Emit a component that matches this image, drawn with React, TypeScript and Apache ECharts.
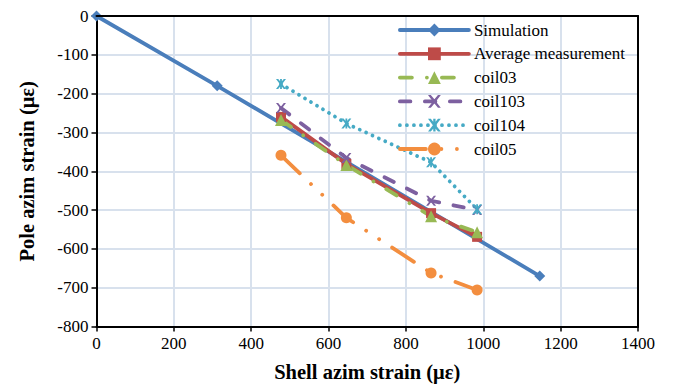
import React, { useEffect, useRef } from "react";
import * as echarts from "echarts";

const seriesNames = ["Simulation", "Average measurement", "coil03", "coil103", "coil104", "coil05"];

const simulation: [number, number][] = [[0, 0], [312, -180], [1146, -670]];
const averageMeasurement: [number, number][] = [[477, -260], [646, -381], [865, -508], [984, -569]];
const coil03: [number, number][] = [[477, -268], [646, -384], [865, -516], [984, -557]];
const coil103: [number, number][] = [[477, -237], [646, -366], [865, -476], [984, -500]];
const coil104: [number, number][] = [[477, -175], [646, -277], [865, -377], [984, -498]];
const coil05: [number, number][] = [[477, -359], [646, -520], [865, -662], [984, -706]];

const xTicks = { min: 0, max: 1400, interval: 200 };
const yTicks = { min: -800, max: 0, interval: 100 };

const FONT = "Liberation Serif";

const X_PATH = "path://M0,0L2.2,0L5,3.4L7.8,0L10,0L6.2,5L10,10L7.8,10L5,6.6L2.2,10L0,10L3.8,5Z";
const STAR_PATH =
  "path://M0,0L2.2,0L5,3.4L7.8,0L10,0L6.2,5L10,10L7.8,10L5,6.6L2.2,10L0,10L3.8,5Z M4.1,0L5.9,0L5.9,10L4.1,10Z";

export default function App() {
  const ref = useRef<HTMLDivElement>(null);
  useEffect(() => {
    if (!ref.current) return;
    const chart = echarts.init(ref.current, undefined, { renderer: "svg" });
    const mk = (
      name: string,
      data: [number, number][],
      color: string,
      symbol: string,
      symbolSize: number,
      type: any,
      width = 3.8
    ) => ({
      name,
      type: "line",
      data,
      symbol,
      symbolSize,
      showSymbol: true,
      color,
      itemStyle: { color, borderWidth: 0 },
      lineStyle: { color, width, type, cap: "round" },
      z: 2,
    });
    const frameAxis = {
      type: "value",
      axisLine: { show: true, onZero: false, lineStyle: { color: "#000", width: 2 } },
      axisTick: { show: false },
      axisLabel: { show: false },
      splitLine: { show: false },
    };
    const labelStyle = {
      fontFamily: FONT,
      fontSize: 17,
      color: "#000",
      margin: 8,
      formatter: (v: number) => String(v),
    };
    const nameStyle = { fontFamily: FONT, fontSize: 20.5, fontWeight: "bold", color: "#000" };
    chart.setOption({
      animation: false,
      backgroundColor: "#fff",
      textStyle: { fontFamily: FONT },
      grid: {
        left: 96.5,
        right: 37,
        top: 16,
        bottom: 61.5,
      },
      legend: {
        orient: "vertical",
        left: 393,
        top: 16,
        itemWidth: 69,
        itemHeight: 16,
        itemGap: 5.8,
        data: seriesNames,
        lineStyle: { width: 3.8 },
        textStyle: { fontFamily: FONT, fontSize: 17, color: "#000", lineHeight: 18 },
      },
      xAxis: [
        {
          type: "value",
          min: xTicks.min,
          max: xTicks.max,
          interval: xTicks.interval,
          name: "Shell azim strain (με)",
          nameLocation: "middle",
          nameGap: 35,
          nameTextStyle: nameStyle,
          axisLine: { show: true, onZero: false, lineStyle: { color: "#000", width: 2 } },
          axisTick: { show: true, length: 5, lineStyle: { color: "#000", width: 1.5 } },
          axisLabel: labelStyle,
          splitLine: { show: true, lineStyle: { color: "#D8E1ED", width: 2 } },
          z: 1,
        },
        { ...frameAxis, position: "top", min: xTicks.min, max: xTicks.max, interval: xTicks.interval, z: 3 },
      ],
      yAxis: [
        {
          type: "value",
          min: yTicks.min,
          max: yTicks.max,
          interval: yTicks.interval,
          name: "Pole azim strain (με)",
          nameLocation: "middle",
          nameGap: 59,
          nameTextStyle: nameStyle,
          axisLine: { show: true, onZero: false, lineStyle: { color: "#000", width: 2 } },
          axisTick: { show: true, length: 5, lineStyle: { color: "#000", width: 1.5 } },
          axisLabel: labelStyle,
          splitLine: { show: true, lineStyle: { color: "#D8E1ED", width: 2 } },
          z: 1,
        },
        { ...frameAxis, position: "right", min: yTicks.min, max: yTicks.max, interval: yTicks.interval, z: 3 },
      ],
      series: [
        mk(seriesNames[0], simulation, "#4A7EBB", "diamond", 11, "solid"),
        mk(seriesNames[1], averageMeasurement, "#BE4B48", "rect", 10, "solid"),
        mk(seriesNames[2], coil03, "#98B954", "triangle", 12, [12, 15, 0.01, 15]),
        mk(seriesNames[3], coil103, "#7D60A0", X_PATH, 10, [10.5, 14.5]),
        mk(seriesNames[4], coil104, "#46AAC5", STAR_PATH, 10, [0.01, 7]),
        mk(seriesNames[5], coil05, "#F38E3F", "circle", 11, [26, 15.5, 0.01, 15.5, 0.01, 15.5]),
      ],
    });
    return () => chart.dispose();
  }, []);
  return <div ref={ref} style={{ width: 675, height: 388, position: "absolute", left: 0, top: 0 }} />;
}
